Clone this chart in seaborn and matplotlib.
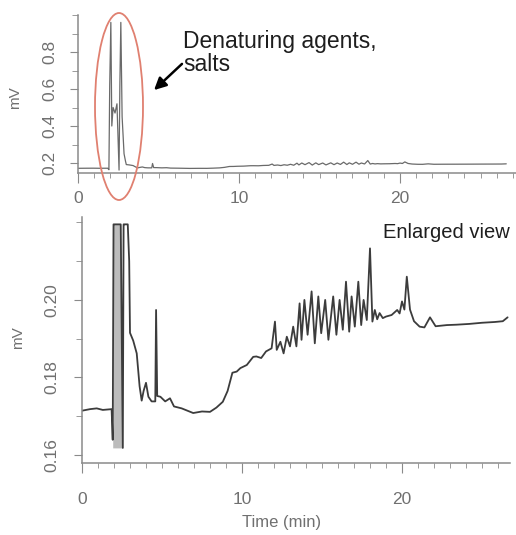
import numpy as np
import pandas as pd
import seaborn as sns
import matplotlib.pyplot as plt
from matplotlib.patches import Ellipse
from matplotlib.ticker import MultipleLocator, FixedLocator

# chromatogram trace (time in min, signal in mV)
time_min = [0.0, 0.5, 0.92, 1.3, 1.85, 1.92, 1.97, 2.04, 2.10, 2.18, 2.30, 2.42,
            2.55, 2.60, 2.66, 2.74, 2.86, 2.95, 3.0, 3.2, 3.42, 3.6, 3.73, 3.85,
            4.0, 4.15, 4.35, 4.58, 4.63, 4.7, 4.9, 5.2, 5.5, 5.75, 6.23, 6.95,
            7.5, 8.0, 8.4, 8.8, 9.1, 9.4, 9.67, 9.9, 10.3, 10.7, 10.9, 11.2,
            11.5, 11.85, 12.06, 12.17, 12.4, 12.6, 12.8, 13.0, 13.2, 13.4, 13.6,
            13.72, 13.9, 14.1, 14.35, 14.55, 14.77, 14.95, 15.2, 15.4, 15.7, 15.9,
            16.1, 16.3, 16.5, 16.7, 16.85, 17.05, 17.27, 17.45, 17.6, 17.8, 18.0,
            18.15, 18.3, 18.45, 18.6, 18.8, 19.0, 19.35, 19.7, 19.85, 20.0, 20.15,
            20.3, 20.5, 20.75, 21.1, 21.4, 21.75, 22.1, 22.8, 23.4, 24.2, 25.0,
            25.8, 26.3, 26.6]
signal_mv = [0.1714, 0.1718, 0.1720, 0.1716, 0.1718, 0.1639, 0.62, 0.96, 0.40, 0.50, 0.47, 0.52,
             0.1618, 0.62, 0.96, 0.45, 0.25, 0.21, 0.1915, 0.1895, 0.1862, 0.1777, 0.1740, 0.1765,
             0.1786, 0.1750, 0.1738, 0.1738, 0.1974, 0.1752, 0.1750, 0.1738, 0.1746, 0.1725, 0.1720, 0.1708,
             0.1712, 0.1711, 0.1722, 0.1737, 0.1765, 0.1812, 0.1815, 0.1824, 0.1832, 0.1853, 0.1854, 0.1850,
             0.1867, 0.1875, 0.1944, 0.1871, 0.1892, 0.1862, 0.1905, 0.1880, 0.1931, 0.1880, 0.1991,
             0.1897, 0.2000, 0.1910, 0.2022, 0.1888, 0.2009, 0.1914, 0.2000, 0.1897, 0.2009, 0.1910,
             0.2000, 0.1923, 0.2047, 0.1918, 0.2009, 0.1931, 0.2047, 0.1935, 0.2000, 0.1948, 0.2133,
             0.1944, 0.1974, 0.1950, 0.1966, 0.1953, 0.1957, 0.1961, 0.1974, 0.1965, 0.1996, 0.1975,
             0.2060, 0.1975, 0.1945, 0.1931, 0.1929, 0.1955, 0.1932, 0.1935, 0.1936, 0.1938, 0.1941,
             0.1943, 0.1945, 0.1955]

top_yticks = [0.2, 0.4, 0.6, 0.8]
zoom_yticks = [0.16, 0.18, 0.20]
salt_window = (1.92, 2.55)

df = pd.DataFrame({"time": time_min, "mv": signal_mv})
zoom_top = 0.2195
df["mv_zoom"] = df["mv"].clip(upper=zoom_top)

sns.set_style("ticks")
plt.rcParams["font.family"] = ["Liberation Sans", "DejaVu Sans"]

fig = plt.figure(figsize=(5.16, 5.35), dpi=100)
W, H = 516, 535

def px_axes(x0, y0, x1, y1):
    return fig.add_axes([x0 / W, 1 - y1 / H, (x1 - x0) / W, (y1 - y0) / H])

axis_grey = "#8a8a8a"
label_grey = "#707070"

# ---- top panel: full scale
ax1 = px_axes(78, 15, 516, 173)
sns.lineplot(data=df, x="time", y="mv", ax=ax1, color="#6a6a6a", lw=0.9)
ax1.set_xlim(0, 438 / 16.1)
ax1.set_ylim(0.146, 1.0)

# ---- bottom panel: enlarged view
ax2 = px_axes(82, 217, 510, 463)
win = df[(df["time"] >= salt_window[0]) & (df["time"] <= salt_window[1])]
ax2.fill_between(win["time"], win["mv"].min(), win["mv_zoom"], color="#bcbcbc", lw=0)
sns.lineplot(data=df, x="time", y="mv_zoom", ax=ax2, color="#3c3c3c", lw=1.3)
ax2.set_xlim(0, 428 / 16.0)
ax2.set_ylim(0.1579, 0.2214)

for ax in (ax1, ax2):
    sns.despine(ax=ax)
    for s in ("left", "bottom"):
        ax.spines[s].set_color(axis_grey)
        ax.spines[s].set_linewidth(1.1)
    ax.xaxis.set_major_locator(MultipleLocator(10))
    ax.xaxis.set_minor_locator(MultipleLocator(1))
    ax.tick_params(which="both", colors=axis_grey, labelcolor=label_grey, labelsize=12.5)
    ax.tick_params(axis="x", which="major", length=7)
    ax.tick_params(axis="x", which="minor", length=3.5)
    ax.tick_params(axis="y", which="major", length=6, labelrotation=90)
    ax.tick_params(axis="y", which="minor", length=4)
    ax.set_xlabel("")

ax1.yaxis.set_major_locator(FixedLocator(top_yticks))
ax1.yaxis.set_minor_locator(MultipleLocator(0.1))
ax1.set_yticklabels([f"{v:.1f}" for v in top_yticks], rotation=90, va="center")
ax1.tick_params(axis="x", pad=6)
ax1.tick_params(axis="y", pad=9)

ax2.yaxis.set_major_locator(FixedLocator(zoom_yticks))
ax2.yaxis.set_minor_locator(MultipleLocator(0.01))
ax2.set_yticklabels([f"{v:.2f}" for v in zoom_yticks], rotation=90, va="center")
ax2.tick_params(axis="x", pad=14)
ax2.tick_params(axis="y", pad=10)

ax1.set_ylabel("mV", color=label_grey, fontsize=11)
ax1.yaxis.set_label_coords(-0.128, 0.48)
ax2.set_ylabel("mV", color=label_grey, fontsize=11)
ax2.yaxis.set_label_coords(-0.133, 0.51)
ax2.set_xlabel("Time (min)", color=label_grey, fontsize=12)
ax2.xaxis.set_label_coords(0.467, -0.212)

# annotations
fig.text(183 / W, 1 - 30 / H, "Denaturing agents,\nsalts", fontsize=16.5, color="#1e1e1e",
         ha="left", va="top", linespacing=1.0)
fig.text(510 / W, 1 - 233 / H, "Enlarged view", fontsize=14.5, color="#1e1e1e",
         ha="right", va="center")
ax1.annotate("", xy=(152, H - 92), xycoords="figure pixels",
             xytext=(184, H - 62), textcoords="figure pixels",
             arrowprops=dict(arrowstyle="-|>", color="black", lw=1.8, mutation_scale=18))
fig.patches.append(Ellipse((119 / W, 1 - 106.5 / H), 48 / W, 187 / H,
                           transform=fig.transFigure, fill=False,
                           edgecolor="#e08070", lw=1.3))

fig.savefig("out.png", dpi=100)
